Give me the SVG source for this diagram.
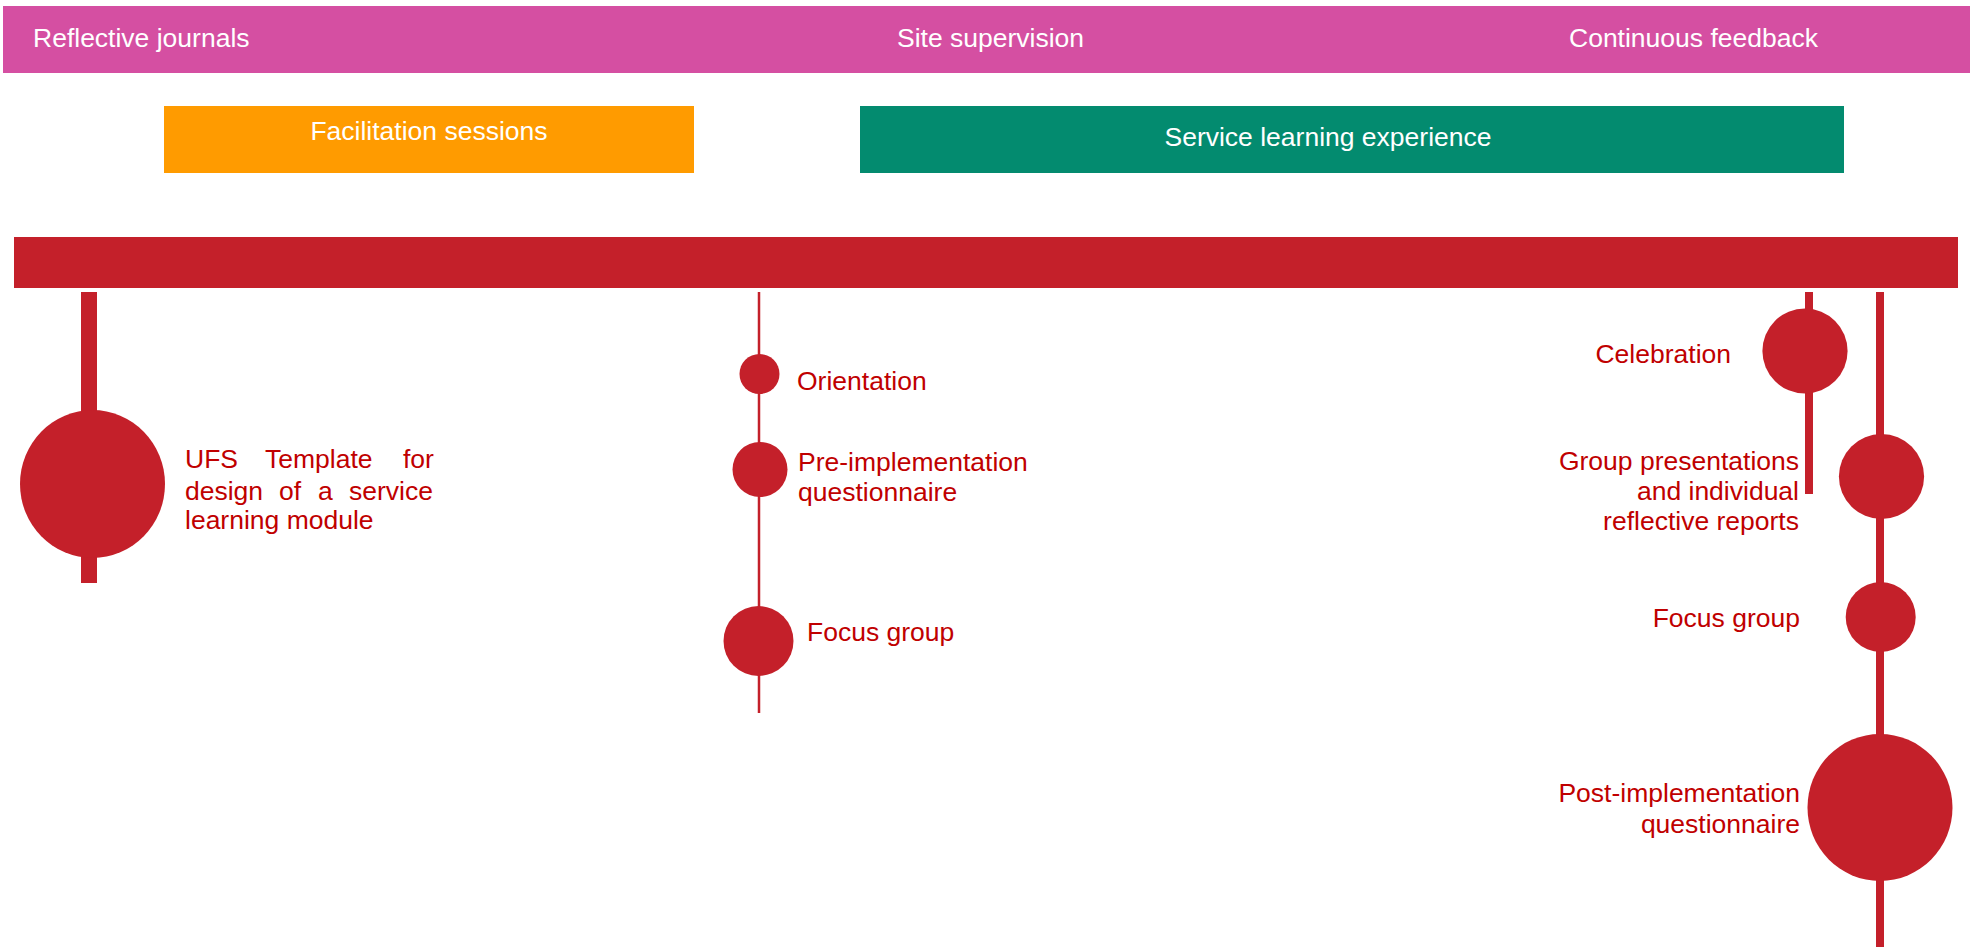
<svg xmlns="http://www.w3.org/2000/svg" width="1973" height="947" viewBox="0 0 1973 947">
  <style>
    text { font-family: "Liberation Sans", Arial, sans-serif; font-size: 26.5px; }
    .lbl-w { fill: #ffffff; }
    .lbl-r { fill: #c00000; }
    .dot { fill: #c4202a; }
    .stem { stroke: #c4202a; fill: none; }
  </style>

  <rect width="1973" height="947" fill="#ffffff"/>

  <!-- Top band: ongoing activities -->
  <g id="band-ongoing">
    <rect x="3" y="6" width="1967" height="67" fill="#d54fa2"/>
    <text class="lbl-w" x="33" y="47">Reflective journals</text>
    <text class="lbl-w" x="897" y="47">Site supervision</text>
    <text class="lbl-w" x="1569" y="47">Continuous feedback</text>
  </g>

  <g id="phase-facilitation">
    <rect x="164" y="106" width="530" height="67" fill="#ff9b00"/>
    <text class="lbl-w" x="429" y="140" text-anchor="middle">Facilitation sessions</text>
  </g>

  <g id="phase-service">
    <rect x="860" y="106" width="984" height="67" fill="#038b6f"/>
    <text class="lbl-w" x="1328" y="146" text-anchor="middle">Service learning experience</text>
  </g>

  <!-- Timeline bar -->
  <g id="timeline">
    <rect x="14" y="237" width="1944" height="51" fill="#c4202a"/>
  </g>

  <!-- Stems hanging from the timeline -->
  <g id="connectors">
    <line class="stem" x1="89" y1="292" x2="89" y2="583" stroke-width="16"/>
    <line class="stem" x1="759" y1="292" x2="759" y2="713" stroke-width="2.5"/>
    <line class="stem" x1="1809" y1="292" x2="1809" y2="494" stroke-width="8"/>
    <line class="stem" x1="1880" y1="292" x2="1880" y2="947" stroke-width="8"/>
  </g>

  <!-- Design stage -->
  <g id="node-ufs-template">
    <ellipse class="dot" cx="92.5" cy="484" rx="72.5" ry="74"/>
    <text class="lbl-r" y="468"><tspan x="185">UFS</tspan><tspan x="265">Template</tspan><tspan x="403">for</tspan></text>
    <text class="lbl-r" y="500"><tspan x="185">design</tspan><tspan x="279">of</tspan><tspan x="318">a</tspan><tspan x="349">service</tspan></text>
    <text class="lbl-r" x="185" y="529">learning module</text>
  </g>

  <!-- Preparation stage -->
  <g id="node-orientation">
    <circle class="dot" cx="759.5" cy="374" r="20"/>
    <text class="lbl-r" x="797" y="390">Orientation</text>
  </g>
  <g id="node-pre-questionnaire">
    <circle class="dot" cx="760" cy="469.5" r="27.5"/>
    <text class="lbl-r" x="798" y="471">Pre-implementation</text>
    <text class="lbl-r" x="798" y="501">questionnaire</text>
  </g>
  <g id="node-focus-group-1">
    <circle class="dot" cx="758.5" cy="641" r="35"/>
    <text class="lbl-r" x="807" y="641">Focus group</text>
  </g>

  <!-- Closing stage -->
  <g id="node-celebration">
    <circle class="dot" cx="1805" cy="351" r="42.6"/>
    <text class="lbl-r" x="1731" y="363" text-anchor="end">Celebration</text>
  </g>
  <g id="node-presentations">
    <circle class="dot" cx="1881.5" cy="476.5" r="42.6"/>
    <text class="lbl-r" x="1799" y="470" text-anchor="end">Group presentations</text>
    <text class="lbl-r" x="1799" y="500" text-anchor="end">and individual</text>
    <text class="lbl-r" x="1799" y="530" text-anchor="end">reflective reports</text>
  </g>
  <g id="node-focus-group-2">
    <circle class="dot" cx="1880.7" cy="617" r="35"/>
    <text class="lbl-r" x="1800" y="627" text-anchor="end">Focus group</text>
  </g>
  <g id="node-post-questionnaire">
    <ellipse class="dot" cx="1880" cy="807.5" rx="72.5" ry="73.5"/>
    <text class="lbl-r" x="1800" y="802" text-anchor="end">Post-implementation</text>
    <text class="lbl-r" x="1800" y="833" text-anchor="end">questionnaire</text>
  </g>
</svg>
